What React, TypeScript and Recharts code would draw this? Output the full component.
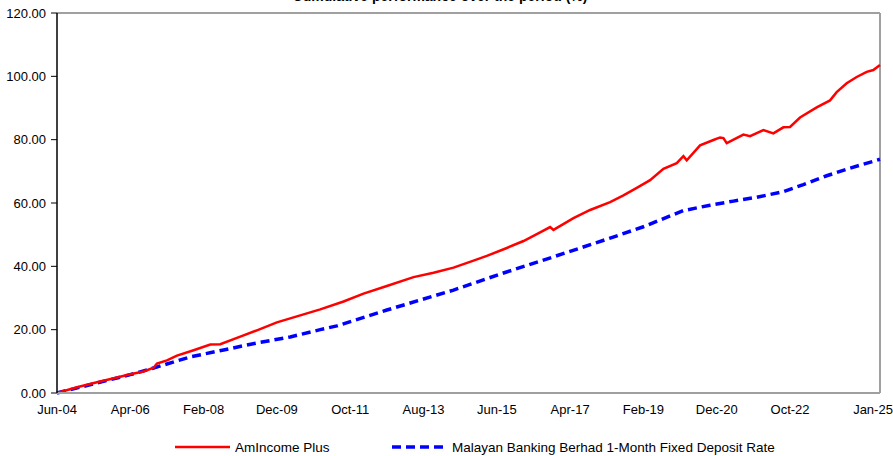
import React from 'react';
import { LineChart, Line, XAxis, YAxis, ReferenceLine, Legend } from 'recharts';

// Month index 0 = Jun-04, 247 = Jan-25
const tickMonths = [0, 22, 44, 66, 88, 110, 132, 154, 176, 198, 220, 247];
const tickLabels = ['Jun-04', 'Apr-06', 'Feb-08', 'Dec-09', 'Oct-11', 'Aug-13', 'Jun-15', 'Apr-17', 'Feb-19', 'Dec-20', 'Oct-22', 'Jan-25'];
const yTicks = [0, 20, 40, 60, 80, 100, 120];

const fundMonths = [0, 6, 12, 18, 22, 26, 29, 30, 33, 36, 41, 46, 49, 55, 60, 66, 72, 79, 86, 92, 99, 107, 113, 119, 125, 129, 135, 140, 144, 148, 149, 155, 160, 166, 170, 174, 178, 182, 186, 188, 189, 193, 197, 199, 200, 201, 206, 208, 212, 215, 218, 220, 223, 228, 232, 234, 237, 240, 243, 245, 247];
const fundValues = [0, 1.8, 3.4, 4.9, 5.9, 6.8, 8.0, 9.3, 10.3, 11.8, 13.5, 15.3, 15.4, 17.8, 19.8, 22.3, 24.2, 26.4, 28.9, 31.4, 33.8, 36.6, 38.0, 39.6, 41.8, 43.3, 45.8, 48.0, 50.2, 52.4, 51.5, 55.2, 57.8, 60.3, 62.4, 64.8, 67.2, 70.8, 72.6, 74.8, 73.5, 78.2, 79.9, 80.7, 80.5, 78.9, 81.6, 81.1, 83.0, 82.0, 83.9, 84.0, 87.0, 90.2, 92.4, 95.0, 97.8, 99.8, 101.4, 102.0, 103.6];

const fdMonths = [0, 22, 29, 40, 50, 60, 70, 79, 84, 99, 119, 134, 149, 166, 176, 188, 196, 203, 210, 218, 224, 231, 238, 247];
const fdValues = [0, 5.8, 7.9, 11.4, 13.6, 15.8, 17.7, 20.0, 21.2, 26.2, 32.5, 37.9, 43.0, 48.9, 52.5, 57.6, 59.3, 60.6, 61.8, 63.6, 65.8, 68.6, 71.0, 73.8];

const seriesNames = ['AmIncome Plus', 'Malayan Banking Berhad 1-Month Fixed Deposit Rate'];
const title = 'Cumulative performance over the period (%)';

const fundData = fundMonths.map((m, i) => ({ m, v: fundValues[i] }));
const fdData = fdMonths.map((m, i) => ({ m, v: fdValues[i] }));

const FONT = '"Liberation Sans", Arial, sans-serif';

const XTick = (props: any) => {
  const { x, y, payload } = props;
  const idx = tickMonths.indexOf(payload.value);
  const last = idx === tickMonths.length - 1;
  return (
    <text x={x + (last ? -7 : 0)} y={y} dy="0.71em" textAnchor="middle" fontSize={13} fill="#000" fontFamily={FONT}>
      {tickLabels[idx]}
    </text>
  );
};

const LegendContent = () => (
  <svg width={893} height={20} style={{ display: 'block' }}>
    <line x1={175} x2={230} y1={10} y2={10} stroke="#ff0000" strokeWidth={2.5} />
    <text x={235} y={10} dy="0.35em" fontSize={13.5} fontFamily={FONT} fill="#000">{seriesNames[0]}</text>
    <line x1={392} x2={446} y1={10} y2={10} stroke="#0000ff" strokeWidth={3.5} strokeDasharray="9 5" />
    <text x={452} y={10} dy="0.35em" fontSize={13.5} fontFamily={FONT} fill="#000">{seriesNames[1]}</text>
  </svg>
);

export default function App() {
  return (
    <div style={{ position: 'absolute', left: 0, top: 0, width: 893, height: 456, background: '#fff', overflow: 'hidden' }}>
      <LineChart width={893} height={456} margin={{ top: 13, right: 13, left: 0, bottom: 0 }}>
        <XAxis
          dataKey="m"
          type="number"
          domain={[0, 247]}
          ticks={tickMonths}
          interval={0}
          tick={<XTick />}
          tickLine={false}
          tickSize={6}
          tickMargin={6}
          height={63}
          axisLine={{ stroke: '#a0a0a0', strokeWidth: 2 }}
          allowDuplicatedCategory={false}
        />
        <YAxis
          type="number"
          domain={[0, 120]}
          ticks={yTicks}
          interval={0}
          width={57}
          tickFormatter={(v: number) => v.toFixed(2)}
          tick={{ fontSize: 13, fill: '#000', fontFamily: FONT }}
          tickSize={6}
          tickMargin={5}
          tickLine={{ stroke: '#000' }}
          axisLine={{ stroke: '#000', strokeWidth: 1.5 }}
        />
        <ReferenceLine y={120} stroke="#a0a0a0" strokeWidth={2} />
        <ReferenceLine x={247} stroke="#a0a0a0" strokeWidth={2} />
        <Line data={fdData} dataKey="v" name={seriesNames[1]} stroke="#0000ff" strokeWidth={3.5} strokeDasharray="9 5" dot={false} isAnimationActive={false} type="linear" />
        <Line data={fundData} dataKey="v" name={seriesNames[0]} stroke="#ff0000" strokeWidth={2.5} dot={false} isAnimationActive={false} type="linear" />
        <Legend layout="horizontal" verticalAlign="middle" align="center" content={<LegendContent />} wrapperStyle={{ left: 0, top: 437, width: 893, height: 20 }} />
      </LineChart>
      <svg width={893} height={456} style={{ position: 'absolute', left: 0, top: 0, pointerEvents: 'none' }}>
        <text x={440} y={0.5} textAnchor="middle" fontSize={14} fontWeight="bold" fontFamily={FONT} fill="#000">{title}</text>
      </svg>
    </div>
  );
}
